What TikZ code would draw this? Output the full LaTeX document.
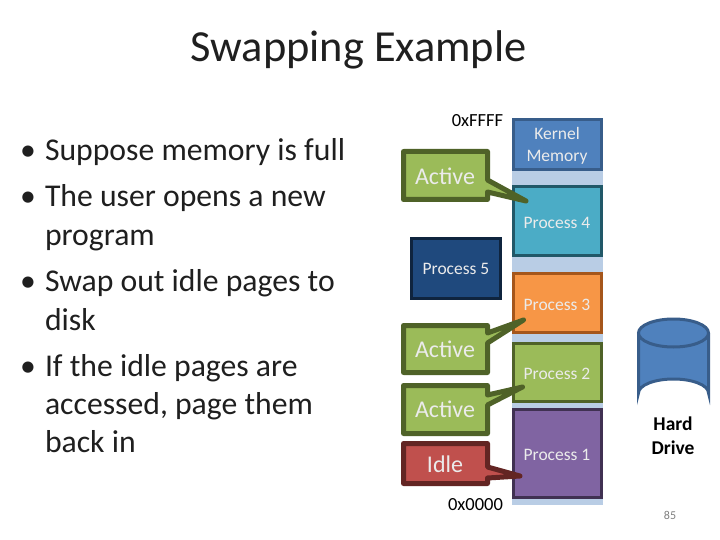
\documentclass[tikz,border=0pt]{standalone}
\usepackage{fontspec}
\setmainfont{Carlito}
\definecolor{kfill}{HTML}{4F81BD}\definecolor{kline}{HTML}{385D8A}
\definecolor{pfourfill}{HTML}{4BACC6}\definecolor{pfourline}{HTML}{215868}
\definecolor{pthreefill}{HTML}{F79646}\definecolor{pthreeline}{HTML}{A5561B}
\definecolor{gfill}{HTML}{9BBB59}\definecolor{gline}{HTML}{4F6228}
\definecolor{ponefill}{HTML}{8064A2}\definecolor{poneline}{HTML}{403152}
\definecolor{pfivefill}{HTML}{1F497D}\definecolor{pfiveline}{HTML}{0F243E}
\definecolor{rfill}{HTML}{C0504D}\definecolor{rline}{HTML}{632523}
\definecolor{band}{HTML}{B9CDE5}
\tikzset{
  x=1pt,y=-1pt,
  every node/.style={inner sep=0pt,outer sep=0pt},
  bullettext/.style={anchor=base west,font=\fontsize{31.7}{32}\selectfont,text=black!88},
  seg/.style={draw,line width=3pt,miter limit=2},
  seglabel/.style={text=white!92!black,font=\fontsize{17.5}{17.5}\selectfont,align=center},
  calloutshape/.style={line width=5pt,line join=round},
  calloutlabel/.style={text=white!92!black,font=\fontsize{24}{24}\selectfont},
  addr/.style={font=\fontsize{18.5}{18.5}\selectfont,text=black},
}
\begin{document}
\begin{tikzpicture}
\useasboundingbox (0,0) rectangle (720,540);
\fill[white] (0,0) rectangle (720,540);
\node[font=\fontsize{44.4}{44.4}\selectfont,text=black!88] (title) at (358.5,49.5) {Swapping Example};
% bullets
\foreach \nm/\by/\hasb/\txt in {a/161/1/Suppose memory is full,b/207/1/The user opens a new,c/245/0/program,d/291/1/Swap out idle pages to,e/330/0/disk,f/376/1/If the idle pages are,g/414/0/accessed{,} page them,h/452/0/back in}{
  \node[bullettext] (line\nm) at (45,\by) {\txt};
  \ifnum\hasb=1 \node[bullettext,anchor=base] (dot\nm) at (28,\by) {•};\fi
}
% memory stack
\fill[band] (511.5,118) rectangle (602.5,505);
\draw[seg,draw=kline,fill=kfill] (513,120) rectangle (601,170);
\draw[seg,draw=pfourline,fill=pfourfill] (513,187) rectangle (601,255.5);
\draw[seg,draw=pthreeline,fill=pthreefill] (513,273.5) rectangle (601,332.5);
\draw[seg,draw=gline,fill=gfill] (513,343.5) rectangle (601,401.5);
\draw[seg,draw=poneline,fill=ponefill] (513,409.5) rectangle (601,497.5);
\node[seglabel] (kernel) at (557,145.5) {Kernel\\[4.5pt]Memory};
\node[seglabel] (pfour) at (557,222.5) {Process 4};
\node[seglabel] (pthree) at (557,304.5) {Process 3};
\node[seglabel] (ptwo) at (557,373.5) {Process 2};
\node[seglabel] (pone) at (557,454.5) {Process 1};
% process 5
\draw[seg,draw=pfiveline,fill=pfivefill] (411.5,238.5) rectangle (500.5,298.5);
\node[seglabel] (pfive) at (456,268.5) {Process 5};
% callouts
\draw[calloutshape,draw=gline,fill=gfill] (403.5,151.5) -- (487.5,151.5) -- (487.5,180) -- (526,201) -- (487.5,192) -- (487.5,199.5) -- (403.5,199.5) -- cycle;
\node[calloutlabel] (act1) at (445,176.5) {Active};
\draw[calloutshape,draw=gline,fill=gfill] (403.5,325.5) -- (487.5,325.5) -- (487.5,333) -- (523.5,320) -- (487.5,343) -- (487.5,372.5) -- (403.5,372.5) -- cycle;
\node[calloutlabel] (act2) at (445,349.5) {Active};
\draw[calloutshape,draw=gline,fill=gfill] (403.5,385.5) -- (487.5,385.5) -- (487.5,395) -- (522.5,387) -- (487.5,405) -- (487.5,433.5) -- (403.5,433.5) -- cycle;
\node[calloutlabel] (act3) at (445,409.5) {Active};
\draw[calloutshape,draw=rline,fill=rfill] (403.5,443.5) -- (487.5,443.5) -- (487.5,467) -- (520,476) -- (487.5,478) -- (487.5,483.5) -- (403.5,483.5) -- cycle;
\node[calloutlabel] (idle) at (445,464.5) {Idle};
% addresses
\node[addr] (top) at (477.5,121) {0xFFFF};
\node[addr] (bot) at (475.5,505) {0x0000};
% hard drive
\draw[line width=3pt,draw=kline,fill=kfill] (638.5,333) -- (638.5,393) arc[start angle=180,end angle=360,x radius=35,y radius=14] -- (708.5,333);
\draw[line width=3pt,draw=kline,fill=kfill] (673.5,333) ellipse[x radius=35,y radius=14];
\node[font=\fontsize{19.5}{24}\selectfont\bfseries,align=center,text=black] (hd) at (673,435.5) {Hard\\Drive};
\node[font=\fontsize{12}{12}\selectfont,text=black!50] (num) at (670,515) {85};
\end{tikzpicture}
\end{document}
